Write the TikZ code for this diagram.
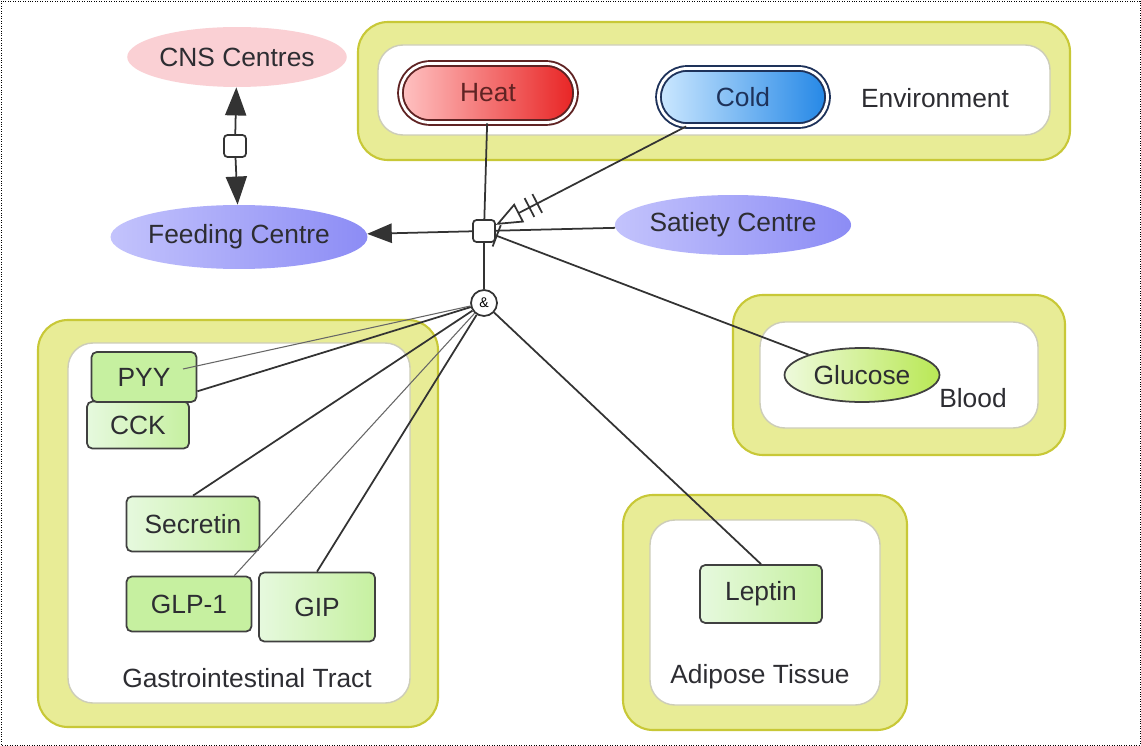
\documentclass[tikz,border=0pt]{standalone}
\usepackage{fontspec}
\setmainfont{Liberation Sans}
\usetikzlibrary{shapes.geometric,shapes.misc,arrows.meta}
\definecolor{band}{RGB}{232,236,150}
\definecolor{bandline}{RGB}{200,200,55}
\definecolor{inline}{RGB}{205,205,185}
\definecolor{gA}{RGB}{198,240,160}
\definecolor{gB}{RGB}{230,249,222}
\definecolor{txt}{RGB}{45,45,50}
\definecolor{heatL}{RGB}{255,195,195}
\definecolor{heatR}{RGB}{232,35,35}
\definecolor{heatD}{RGB}{95,35,35}
\definecolor{coldL}{RGB}{205,232,255}
\definecolor{coldR}{RGB}{35,135,230}
\definecolor{coldD}{RGB}{30,50,90}
\definecolor{pinkc}{RGB}{250,208,212}
\definecolor{lilacL}{RGB}{195,195,252}
\definecolor{lilacR}{RGB}{140,140,245}
\definecolor{glL}{RGB}{238,250,220}
\definecolor{glR}{RGB}{185,232,85}

\tikzset{
  zoneout/.style={draw=bandline,line width=1.2pt,fill=band,rounded corners=0.6cm},
  zonein/.style={draw=inline,line width=0.8pt,fill=white,rounded corners=0.5cm},
  hormone/.style={draw=black!75,line width=1pt,rounded corners=3pt,text=txt,inner sep=0pt},
  centre/.style={ellipse,inner sep=0pt,text=txt},
  stimulus/.style={rounded rectangle,line width=1.1pt,double=white,double distance=1.6pt,inner sep=0pt},
  link/.style={draw=black!80,line width=1pt},
  thinlink/.style={draw=black!60,line width=0.6pt}
}

\begin{document}
\begin{tikzpicture}[x=0.02cm,y=-0.02cm,font=\fontsize{15}{18}\selectfont]
\useasboundingbox (0,0) rectangle (1141,746);
\fill[white] (0,0) rectangle (1141,746);
\draw[densely dotted] (1,1) rectangle (1140,745);

% compartments
\draw[zoneout] (358,22) rectangle (1070,160);
\draw[zonein] (378,45) rectangle (1050,135);
\draw[zoneout] (38,320) rectangle (438,727);
\draw[zonein] (68,343) rectangle (410,703);
\draw[zoneout] (733,295) rectangle (1065,455);
\draw[zonein] (760,322) rectangle (1038,428);
\draw[zoneout] (623,495) rectangle (907,730);
\draw[zonein] (650,520) rectangle (880,705);

\node[text=txt] (envtxt) at (935,98) {Environment};
\node[text=txt] (gitxt) at (247,678) {Gastrointestinal Tract};
\node[text=txt] (bloodtxt) at (973,398) {Blood};
\node[text=txt] (adiptxt) at (760,677) {Adipose Tissue};

% centres
\node[centre,fill=pinkc,minimum width=4cm,minimum height=1.2cm] (cns) at (237,57) {CNS Centres};
\node[centre,left color=lilacL,right color=lilacR,minimum width=4.04cm,minimum height=1.28cm] (feed) at (239,237) {Feeding Centre};
\node[centre,left color=lilacL,right color=lilacR,minimum width=4.16cm,minimum height=1.2cm] (sat) at (733,225) {Satiety Centre};

% stimuli
\node[stimulus,draw=heatD,left color=heatL,right color=heatR,text=heatD,minimum width=3.5cm,minimum height=1.18cm] (heat) at (488,93) {Heat};
\node[stimulus,draw=coldD,left color=coldL,right color=coldR,text=coldD,minimum width=3.38cm,minimum height=1.14cm] (cold) at (743,97) {Cold};

% hormones
\node[hormone,left color=gB,right color=gA,minimum width=2.04cm,minimum height=0.94cm] (cck) at (138,425) {CCK};
\node[hormone,fill=gA,minimum width=2.1cm,minimum height=1cm] (pyy) at (144,377) {PYY};
\node[hormone,left color=gB,right color=gA,minimum width=2.66cm,minimum height=1.1cm] (sec) at (193,524) {Secretin};
\node[hormone,fill=gA,minimum width=2.5cm,minimum height=1.1cm] (glp) at (189,604) {GLP-1};
\node[hormone,left color=gB,right color=gA,minimum width=2.32cm,minimum height=1.38cm] (gip) at (317,607) {GIP};
\node[hormone,left color=gB,right color=gA,minimum width=2.44cm,minimum height=1.16cm] (lep) at (761,594) {Leptin};
\node[centre,draw=black!75,line width=1pt,left color=glL,right color=glR,minimum width=3.1cm,minimum height=1.08cm] (gluc) at (862,375) {Glucose};

% process nodes
\node[draw=black!80,line width=1pt,rounded corners=2pt,fill=white,minimum size=0.44cm,inner sep=0pt] (hub) at (484,231) {};
\node[draw=black!80,line width=1pt,rounded corners=2pt,fill=white,minimum size=0.44cm,inner sep=0pt] (cnsbox) at (235,146) {};
\node[circle,draw=black!80,line width=1pt,fill=white,minimum size=0.52cm,inner sep=0pt,font=\footnotesize] (andc) at (484,303) {\&};
\coordinate (cckend) at (183,369);

% arcs
\draw[link,-{Triangle[length=16pt,width=12pt]}] (cnsbox) -- (cns);
\draw[link,-{Triangle[length=16pt,width=12pt]}] (cnsbox) -- (feed);
\draw[link,-{Triangle[length=14pt,width=11pt]}] (hub) -- (feed);
\draw[link] (heat) -- (hub);
\draw[link,-{Bar[width=12pt,sep=4pt]Bar[width=12pt,sep=6pt]Triangle[open,length=15pt,width=12pt]}] (cold) -- (hub);
\draw[link] (sat) -- (hub);
\draw[link,-{Bar[width=13pt]}] (gluc) -- (hub);
\draw[link] (hub) -- (andc);
\draw[thinlink] (andc) -- (cckend);
\draw[link] (andc) -- (pyy.-15);
\draw[link] (andc) -- (sec.north);
\draw[thinlink] (andc) -- ([xshift=-0.36cm]glp.north east);
\draw[link] (andc) -- (gip.north);
\draw[link] (andc) -- (lep.north);
\end{tikzpicture}
\end{document}
